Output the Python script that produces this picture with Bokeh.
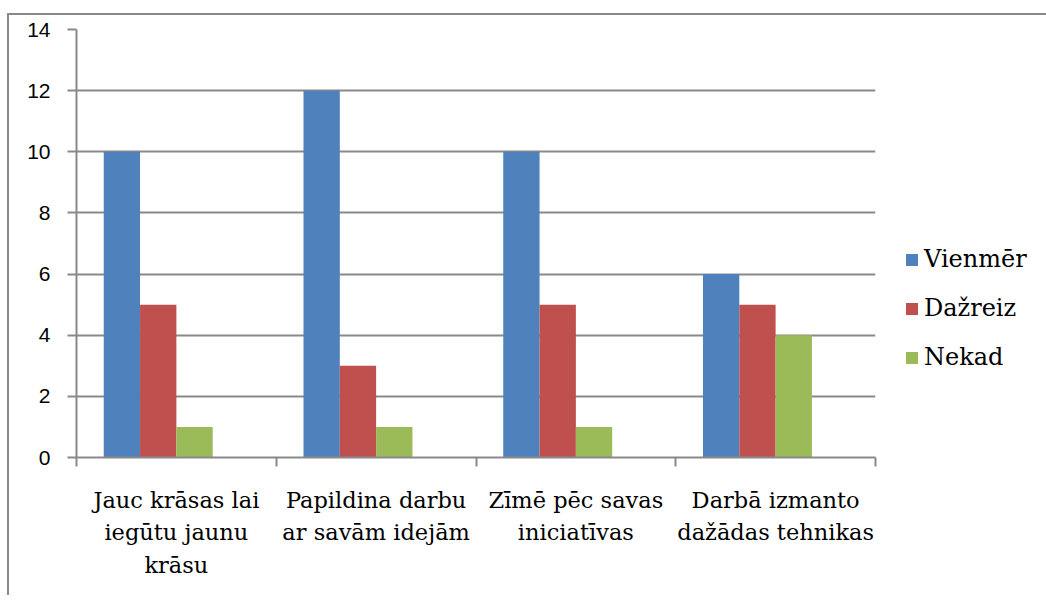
from bokeh.plotting import figure
from bokeh.models import ColumnDataSource, Range1d, FixedTicker, Legend, LegendItem
from bokeh.embed import file_html
from bokeh.resources import INLINE

categories = ["Jauc krāsas lai\niegūtu jaunu\nkrāsu",
              "Papildina darbu\nar savām idejām",
              "Zīmē pēc savas\niniciatīvas",
              "Darbā izmanto\ndažādas tehnikas"]
series_names = ["Vienmēr", "Dažreiz", "Nekad"]
vienmer = [10, 12, 10, 6]
dazreiz = [5, 3, 5, 5]
nekad = [1, 1, 1, 4]
colors = ["#4F81BD", "#C0504D", "#9BBB59"]
y_ticks = [0, 2, 4, 6, 8, 10, 12, 14]

GRAY = "#898989"
BW = 1 / 5.5
SERIF = "DejaVu Serif"

p = figure(output_backend="svg", toolbar_location=None,
           frame_width=799, frame_height=428, width=1030, height=580,
           min_border_left=67, min_border_top=14, min_border_right=164,
           min_border_bottom=138,
           x_range=Range1d(0, 4), y_range=Range1d(0, 14))
p.styles = {"border-top": f"2px solid {GRAY}", "border-left": f"2px solid {GRAY}",
            "margin-top": "13px", "margin-left": "7px"}
p.outline_line_color = None

renderers = []
for k, (name, vals, col) in enumerate(zip(series_names, [vienmer, dazreiz, nekad], colors)):
    xs = [i + 0.5 + (k - 1.5) * BW for i in range(len(categories))]
    src = ColumnDataSource(dict(x=xs, top=vals))
    r = p.vbar(x="x", top="top", bottom=0, width=BW, source=src,
               fill_color=col, line_color=None)
    renderers.append((name, r))

p.xgrid.grid_line_color = None
p.ygrid.ticker = FixedTicker(ticks=y_ticks)
p.ygrid.grid_line_color = GRAY
p.ygrid.grid_line_width = 2

p.yaxis.ticker = FixedTicker(ticks=y_ticks)
p.yaxis.axis_line_color = GRAY
p.yaxis.axis_line_width = 2
p.yaxis.major_tick_line_color = GRAY
p.yaxis.major_tick_line_width = 2
p.yaxis.major_tick_out = 9
p.yaxis.major_tick_in = 0
p.yaxis.minor_tick_line_color = None
p.yaxis.major_label_text_font = "Liberation Sans"
p.yaxis.major_label_text_font_size = "21px"
p.yaxis.major_label_text_color = "black"
p.yaxis.major_label_standoff = 17

centers = [i + 0.5 for i in range(len(categories))]
p.xaxis.ticker = FixedTicker(ticks=centers, minor_ticks=[0, 1, 2, 3, 4])
p.xaxis.major_label_overrides = {c: lab for c, lab in zip(centers, categories)}
p.xaxis.axis_line_color = GRAY
p.xaxis.axis_line_width = 2
p.xaxis.major_tick_line_color = None
p.xaxis.major_tick_out = 0
p.xaxis.major_tick_in = 0
p.xaxis.minor_tick_line_color = GRAY
p.xaxis.minor_tick_line_width = 2
p.xaxis.minor_tick_out = 9
p.xaxis.minor_tick_in = 0
p.xaxis.major_label_text_font = SERIF
p.xaxis.major_label_text_font_size = "22.5px"
p.xaxis.major_label_text_color = "black"
p.xaxis.major_label_text_line_height = 1.26
p.xaxis.major_label_standoff = 20

legend = Legend(items=[LegendItem(label=n, renderers=[r]) for n, r in renderers],
                location=(29, 86))
legend.border_line_color = None
legend.background_fill_alpha = 0
legend.padding = 0
legend.margin = 0
legend.glyph_width = 15
legend.glyph_height = 15
legend.label_standoff = 5
legend.label_height = 25
legend.spacing = 21
legend.label_text_font = SERIF
legend.label_text_font_size = "24px"
legend.label_text_color = "black"
p.add_layout(legend, "right")

open("out.html", "w").write(file_html(p, INLINE))
